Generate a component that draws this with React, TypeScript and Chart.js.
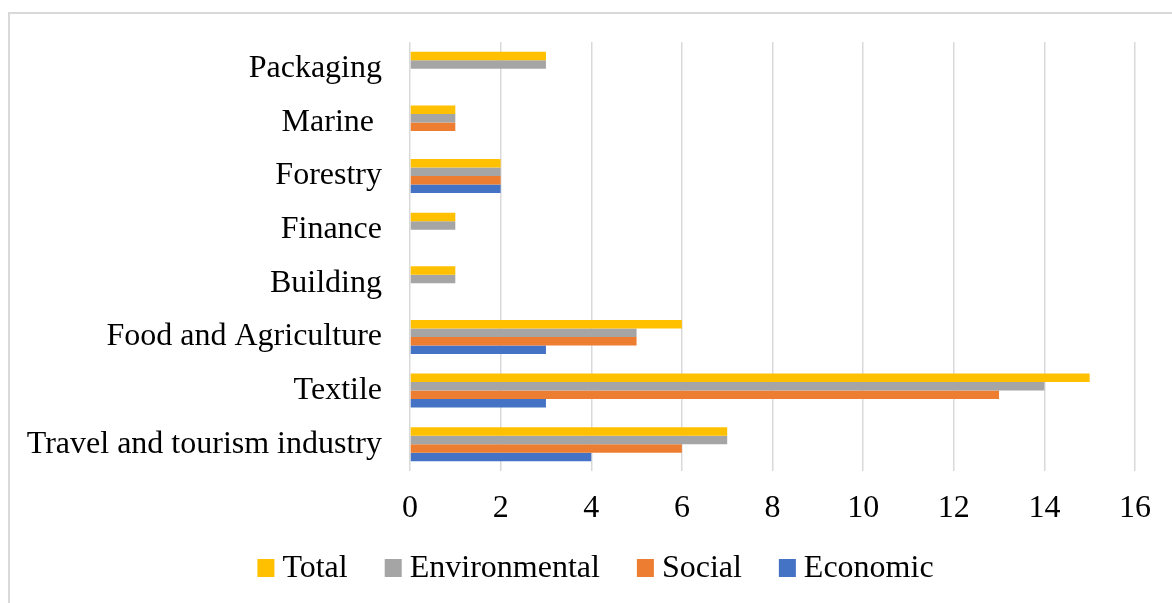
import React, { useEffect, useRef } from "react";
import { Chart, registerables } from "chart.js";

Chart.register(...registerables);

const categories = [
  "Packaging",
  "Marine ",
  "Forestry",
  "Finance",
  "Building",
  "Food and Agriculture",
  "Textile",
  "Travel and tourism industry",
];
const seriesNames = ["Total", "Environmental", "Social", "Economic"];
const totalValues = [3, 1, 2, 1, 1, 6, 15, 7];
const environmentalValues = [3, 1, 2, 1, 1, 5, 14, 7];
const socialValues = [0, 1, 2, 0, 0, 5, 13, 6];
const economicValues = [0, 0, 2, 0, 0, 3, 3, 4];
const seriesColors = ["#FFC000", "#A5A5A5", "#ED7D31", "#4472C4"];
const xMin = 0;
const xMax = 16;
const xStep = 2;

const FONT_FAMILY = '"Liberation Serif", "Times New Roman", serif';
const FONT_SIZE = 32;

// Legend drawn in an Excel-like layout (small box, tight gap to text).
const bottomLegend = {
  id: "bottomLegend",
  afterDraw(chart: any) {
    const ctx = chart.ctx as CanvasRenderingContext2D;
    const items = chart.data.datasets.map((d: any) => ({
      text: d.label as string,
      color: d.backgroundColor as string,
    }));
    const boxW = 17;
    const boxH = 18;
    const boxGap = 8;
    const itemGap = 37;
    const centerX = 595.5;
    const centerY = 568;
    ctx.save();
    ctx.font = `${FONT_SIZE}px ${FONT_FAMILY}`;
    const widths = items.map((it: any) => ctx.measureText(it.text).width);
    const total =
      widths.reduce((a: number, b: number) => a + b, 0) +
      items.length * (boxW + boxGap) +
      (items.length - 1) * itemGap;
    let x = centerX - total / 2;
    ctx.textBaseline = "middle";
    ctx.textAlign = "left";
    items.forEach((it: any, i: number) => {
      ctx.fillStyle = it.color;
      ctx.fillRect(x, centerY - boxH / 2, boxW, boxH);
      x += boxW + boxGap;
      ctx.fillStyle = "#000";
      ctx.fillText(it.text, x, centerY + 1);
      x += widths[i] + itemGap;
    });
    ctx.restore();
  },
};

export default function App() {
  const canvasRef = useRef<HTMLCanvasElement | null>(null);

  useEffect(() => {
    const canvas = canvasRef.current;
    if (!canvas) return;
    const values = [totalValues, environmentalValues, socialValues, economicValues];
    const xFont = { family: FONT_FAMILY, size: FONT_SIZE };
    const yFont = { family: FONT_FAMILY, size: FONT_SIZE, lineHeight: 0.5 };
    const chart = new Chart(canvas, {
      type: "bar",
      data: {
        labels: categories,
        datasets: seriesNames.map((name, i) => ({
          label: name,
          data: values[i],
          backgroundColor: seriesColors[i],
          borderWidth: 0,
          categoryPercentage: 0.634,
          barPercentage: 1,
        })),
      },
      options: {
        indexAxis: "y",
        animation: false,
        responsive: false,
        maintainAspectRatio: false,
        layout: { padding: { left: 0, right: 37, top: 42, bottom: 76 } },
        plugins: {
          legend: { display: false },
          tooltip: { enabled: false },
        },
        scales: {
          x: {
            min: xMin,
            max: xMax,
            ticks: { stepSize: xStep, font: xFont, color: "#000", padding: 18 },
            grid: { color: "#d9d9d9", lineWidth: 1.5, drawTicks: false },
            border: { display: false },
            afterFit: (s: any) => {
              s.height = 56;
            },
          },
          y: {
            grid: { display: false, drawTicks: false },
            border: { display: false },
            ticks: { font: yFont, color: "#000", padding: 28, autoSkip: false },
            afterFit: (s: any) => {
              s.width = 410;
            },
          },
        },
      },
      plugins: [bottomLegend],
    } as any);
    return () => chart.destroy();
  }, []);

  return (
    <div style={{ position: "fixed", inset: 0, overflow: "hidden", background: "#fff" }}>
      <div
        style={{
          position: "absolute",
          left: 8,
          top: 12,
          width: 1300,
          height: 700,
          borderLeft: "2px solid #d9d9d9",
          borderTop: "2px solid #d9d9d9",
        }}
      />
      <canvas
        ref={canvasRef}
        width={1172}
        height={603}
        style={{ position: "absolute", left: 0, top: 0, width: 1172, height: 603 }}
      />
    </div>
  );
}
